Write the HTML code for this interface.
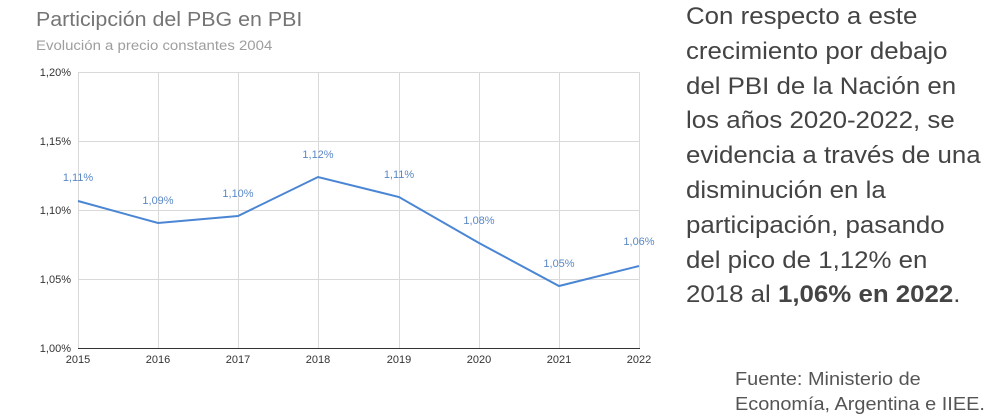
<!DOCTYPE html>
<html><head><meta charset="utf-8"><style>
body{margin:0;width:992px;height:420px;background:#fff;overflow:hidden;font-family:"Liberation Sans",sans-serif;position:relative}
.t{position:absolute;left:686px;top:0px;font-size:24.5px;line-height:34.8px;color:#444;transform:scaleX(1.055);transform-origin:0 0;white-space:nowrap}
.f{position:absolute;left:735px;top:367px;font-size:18px;line-height:25px;color:#555;transform:scaleX(1.105);transform-origin:0 0;white-space:nowrap}
</style></head><body>
<svg width="660" height="420" style="position:absolute;left:0;top:0" font-family="Liberation Sans, sans-serif">
<text x="36" y="26" font-size="20" fill="#757575" transform="translate(36 0) scale(1.07 1) translate(-36 0)">Participción del PBG en PBI</text>
<text x="36" y="50" font-size="14" fill="#9e9e9e" transform="translate(36 0) scale(1.07 1) translate(-36 0)">Evolución a precio constantes 2004</text>
<g stroke="#d9d9d9" stroke-width="1">
<line x1="78" y1="72.5" x2="640" y2="72.5"/><line x1="78" y1="141.5" x2="640" y2="141.5"/>
<line x1="78" y1="210.5" x2="640" y2="210.5"/><line x1="78" y1="279.5" x2="640" y2="279.5"/>
<line x1="78.5" y1="72" x2="78.5" y2="348"/><line x1="158.5" y1="72" x2="158.5" y2="348"/>
<line x1="238.5" y1="72" x2="238.5" y2="348"/><line x1="318.5" y1="72" x2="318.5" y2="348"/>
<line x1="399.5" y1="72" x2="399.5" y2="348"/><line x1="479.5" y1="72" x2="479.5" y2="348"/>
<line x1="559.5" y1="72" x2="559.5" y2="348"/><line x1="639.5" y1="72" x2="639.5" y2="348"/>
</g>
<line x1="78" y1="348.5" x2="640" y2="348.5" stroke="#333" stroke-width="1"/>
<g font-size="11" fill="#333" text-anchor="end">
<text x="71" y="76">1,20%</text><text x="71" y="145">1,15%</text><text x="71" y="214">1,10%</text><text x="71" y="283">1,05%</text><text x="71" y="352">1,00%</text>
</g>
<g font-size="11" fill="#333" text-anchor="middle">
<text x="78" y="363">2015</text><text x="158" y="363">2016</text><text x="238" y="363">2017</text><text x="318" y="363">2018</text><text x="399" y="363">2019</text><text x="479" y="363">2020</text><text x="559" y="363">2021</text><text x="639" y="363">2022</text>
</g>
<polyline fill="none" stroke="#4a86d4" stroke-width="2" points="78,201 158,223 238,216 318,177 399,197 479,243 559,286 639,266"/>
<g font-size="11" fill="#5a88c6" text-anchor="middle">
<text x="78" y="181">1,11%</text><text x="158" y="204">1,09%</text><text x="238" y="197">1,10%</text><text x="318" y="158">1,12%</text><text x="399" y="178">1,11%</text><text x="479" y="224">1,08%</text><text x="559" y="267">1,05%</text><text x="639" y="245">1,06%</text>
</g>
</svg>
<div class="t">Con respecto a este<br>crecimiento por debajo<br>del PBI de la Nación en<br>los años 2020-2022, se<br>evidencia a través de una<br>disminución en la<br>participación, pasando<br>del pico de 1,12% en<br>2018 al <b>1,06% en 2022</b>.</div>
<div class="f">Fuente: Ministerio de<br>Economía, Argentina e IIEE.</div>
</body></html>
